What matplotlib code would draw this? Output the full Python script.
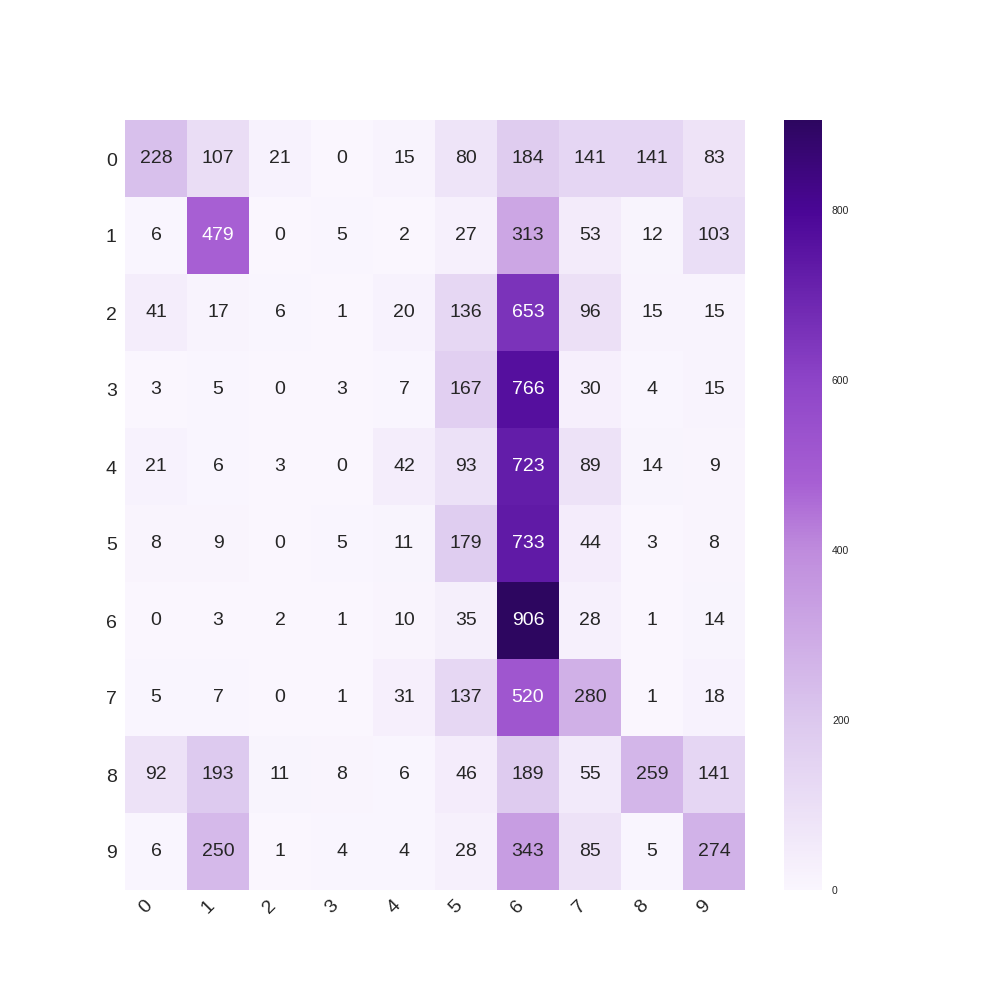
import matplotlib
matplotlib.use("Agg")
import matplotlib.pyplot as plt
import matplotlib.transforms as mtransforms
import seaborn as sns
import numpy as np
from matplotlib.colors import LinearSegmentedColormap

labels = ["0", "1", "2", "3", "4", "5", "6", "7", "8", "9"]
confusion = [
    [228, 107, 21, 0, 15, 80, 184, 141, 141, 83],
    [6, 479, 0, 5, 2, 27, 313, 53, 12, 103],
    [41, 17, 6, 1, 20, 136, 653, 96, 15, 15],
    [3, 5, 0, 3, 7, 167, 766, 30, 4, 15],
    [21, 6, 3, 0, 42, 93, 723, 89, 14, 9],
    [8, 9, 0, 5, 11, 179, 733, 44, 3, 8],
    [0, 3, 2, 1, 10, 35, 906, 28, 1, 14],
    [5, 7, 0, 1, 31, 137, 520, 280, 1, 18],
    [92, 193, 11, 8, 6, 46, 189, 55, 259, 141],
    [6, 250, 1, 4, 4, 28, 343, 85, 5, 274],
]

sns.set_style("white")
plt.rcParams["font.family"] = ["Liberation Sans", "DejaVu Sans"]

# purple ramp picked off the colour bar
cmap = LinearSegmentedColormap.from_list("purp", [
    (0.0, "#faf6fe"),
    (0.22, "#dcc8ee"),
    (0.44, "#bf8cdd"),
    (0.53, "#a75fd3"),
    (0.66, "#8e45c8"),
    (0.88, "#4b0697"),
    (1.0, "#2d0660"),
])

fig = plt.figure(figsize=(10, 10))
ax = sns.heatmap(np.array(confusion), annot=True, fmt="d", cmap=cmap,
                 annot_kws={"size": 14}, xticklabels=labels, yticklabels=labels)
ax.set_yticklabels(labels, rotation=0, fontsize=14)
ax.set_xticklabels(labels, rotation=45, ha="right", fontsize=14)
ax.tick_params(axis="x", length=0, pad=5)
ax.tick_params(axis="y", length=0, pad=6)

# row labels sit a touch lower in the original
shift = mtransforms.ScaledTranslation(0, -0.025, fig.dpi_scale_trans)
for lab in ax.get_yticklabels():
    lab.set_transform(lab.get_transform() + shift)

cbar = ax.collections[0].colorbar
cbar.ax.tick_params(labelsize=7.5, length=0, pad=7)
cbar.outline.set_visible(False)

plt.savefig("out.png", dpi=100)
